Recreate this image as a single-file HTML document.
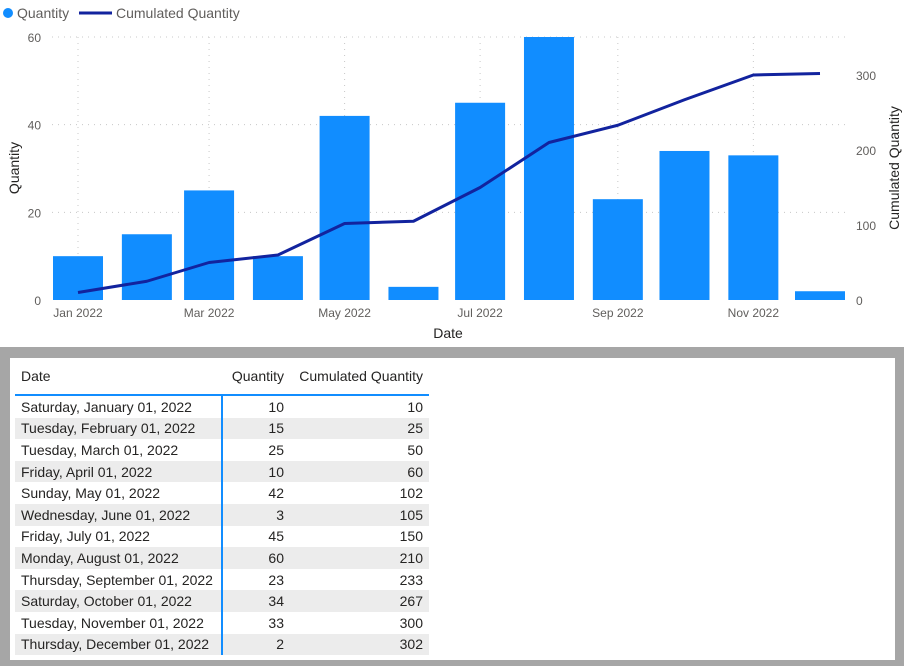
<!DOCTYPE html>
<html><head><meta charset="utf-8"><style>
body{margin:0;width:904px;height:666px;background:#fff;font-family:"Liberation Sans",sans-serif;position:relative;overflow:hidden}
svg text{font-family:"Liberation Sans",sans-serif}
#panel{position:absolute;left:0;top:347px;width:904px;height:319px;background:#a6a6a6}
#inner{position:absolute;left:10px;top:11px;width:885px;height:302px;background:#fff}
table{position:absolute;left:5px;top:0;border-collapse:collapse;font-size:14px;color:#252423}
th{font-weight:normal;height:36px;padding:0 6px;border-bottom:2px solid #118dff;text-align:right}
td{height:21.6px;padding:0 6px;text-align:right}
tr.z td{background:#ececec}
td.d,th.d{text-align:left;width:194px}
td.q{border-left:2px solid #118dff !important;width:55px}
td.c{width:127px}
</style></head><body>
<svg id="chart" width="904" height="347" style="position:absolute;left:0;top:0"></svg>
<div id="panel"><div id="inner">
<table><thead><tr>
<th class="d">Date</th><th>Quantity</th><th>Cumulated Quantity</th></tr></thead><tbody id="tb"></tbody></table>
</div></div>
<script>
const dates=["Saturday, January 01, 2022","Tuesday, February 01, 2022","Tuesday, March 01, 2022","Friday, April 01, 2022","Sunday, May 01, 2022","Wednesday, June 01, 2022","Friday, July 01, 2022","Monday, August 01, 2022","Thursday, September 01, 2022","Saturday, October 01, 2022","Tuesday, November 01, 2022","Thursday, December 01, 2022"];
const dayOfYear=[0,31,59,90,120,151,181,212,243,273,304,334];
const quantity=[10,15,25,10,42,3,45,60,23,34,33,2];
const cumulated=[10,25,50,60,102,105,150,210,233,267,300,302];
const leftTicks=[0,20,40,60];
const rightTicks=[0,100,200,300];
const xTickLabels=["Jan 2022","Mar 2022","May 2022","Jul 2022","Sep 2022","Nov 2022"];
const xTickMonths=[0,2,4,6,8,10];

const NS="http://www.w3.org/2000/svg";
const svg=document.getElementById('chart');
const X=d=>78+d*742/334;
const YL=v=>300-v*263/60;
const YR=v=>300-v*225/300;
function mk(tag,at,txt){const e=document.createElementNS(NS,tag);for(const k in at)e.setAttribute(k,at[k]);if(txt!=null)e.textContent=txt;svg.appendChild(e);return e;}
let e=mk('circle',{cx:8,cy:13,r:5,fill:'#118dff'});


e=mk('text',{x:17,y:18,'font-size':14,fill:'#605e5c'},'Quantity');


e=mk('line',{x1:79,y1:13,x2:112,y2:13,stroke:'#12239e','stroke-width':3});


e=mk('text',{x:116,y:18,'font-size':14,fill:'#605e5c'},'Cumulated Quantity');


leftTicks.forEach(t=>{
 if(t>0){e=mk('line',{x1:52,x2:845,y1:YL(t),y2:YL(t),stroke:'#c8c8c8','stroke-dasharray':'1 5'});
 
 }
 e=mk('text',{x:41,y:YL(t)+5,'font-size':12,fill:'#605e5c','text-anchor':'end'},t);
 
 
});
rightTicks.forEach(t=>{
 e=mk('text',{x:856,y:YR(t)+5,'font-size':12,fill:'#605e5c'},t);
 
 
});
xTickMonths.forEach((m,i)=>{
 const x=X(dayOfYear[m]);
 e=mk('line',{x1:x,x2:x,y1:37,y2:300,stroke:'#c8c8c8','stroke-dasharray':'1 5'});
 
 
 e=mk('text',{x:x,y:317,'font-size':12,fill:'#605e5c','text-anchor':'middle'},xTickLabels[i]);
 
 
});
quantity.forEach((q,i)=>{
 const x=X(dayOfYear[i]);
 e=mk('rect',{x:x-25,y:YL(q),width:50,height:300-YL(q),fill:'#118dff'});
 
 
});
e=mk('polyline',{points:cumulated.map((c,i)=>X(dayOfYear[i])+','+YR(c)).join(' '),fill:'none',stroke:'#12239e','stroke-width':3,'stroke-linejoin':'round'});


e=mk('text',{x:448,y:338,'font-size':14,fill:'#252423','text-anchor':'middle'},'Date');


e=mk('text',{x:0,y:0,'font-size':14,fill:'#252423','text-anchor':'middle',transform:'translate(19,168) rotate(-90)'},'Quantity');


e=mk('text',{x:0,y:0,'font-size':14,fill:'#252423','text-anchor':'middle',transform:'translate(899,168) rotate(-90)'},'Cumulated Quantity');


const tb=document.getElementById('tb');
dates.forEach((d,i)=>{
 const tr=document.createElement('tr');
 if(i%2)tr.className='z';
 
 
 tr.innerHTML='<td class="d">'+d+'</td><td class="q">'+quantity[i]+'</td><td class="c">'+cumulated[i]+'</td>';
 tb.appendChild(tr);
});
</script>
</body></html>
